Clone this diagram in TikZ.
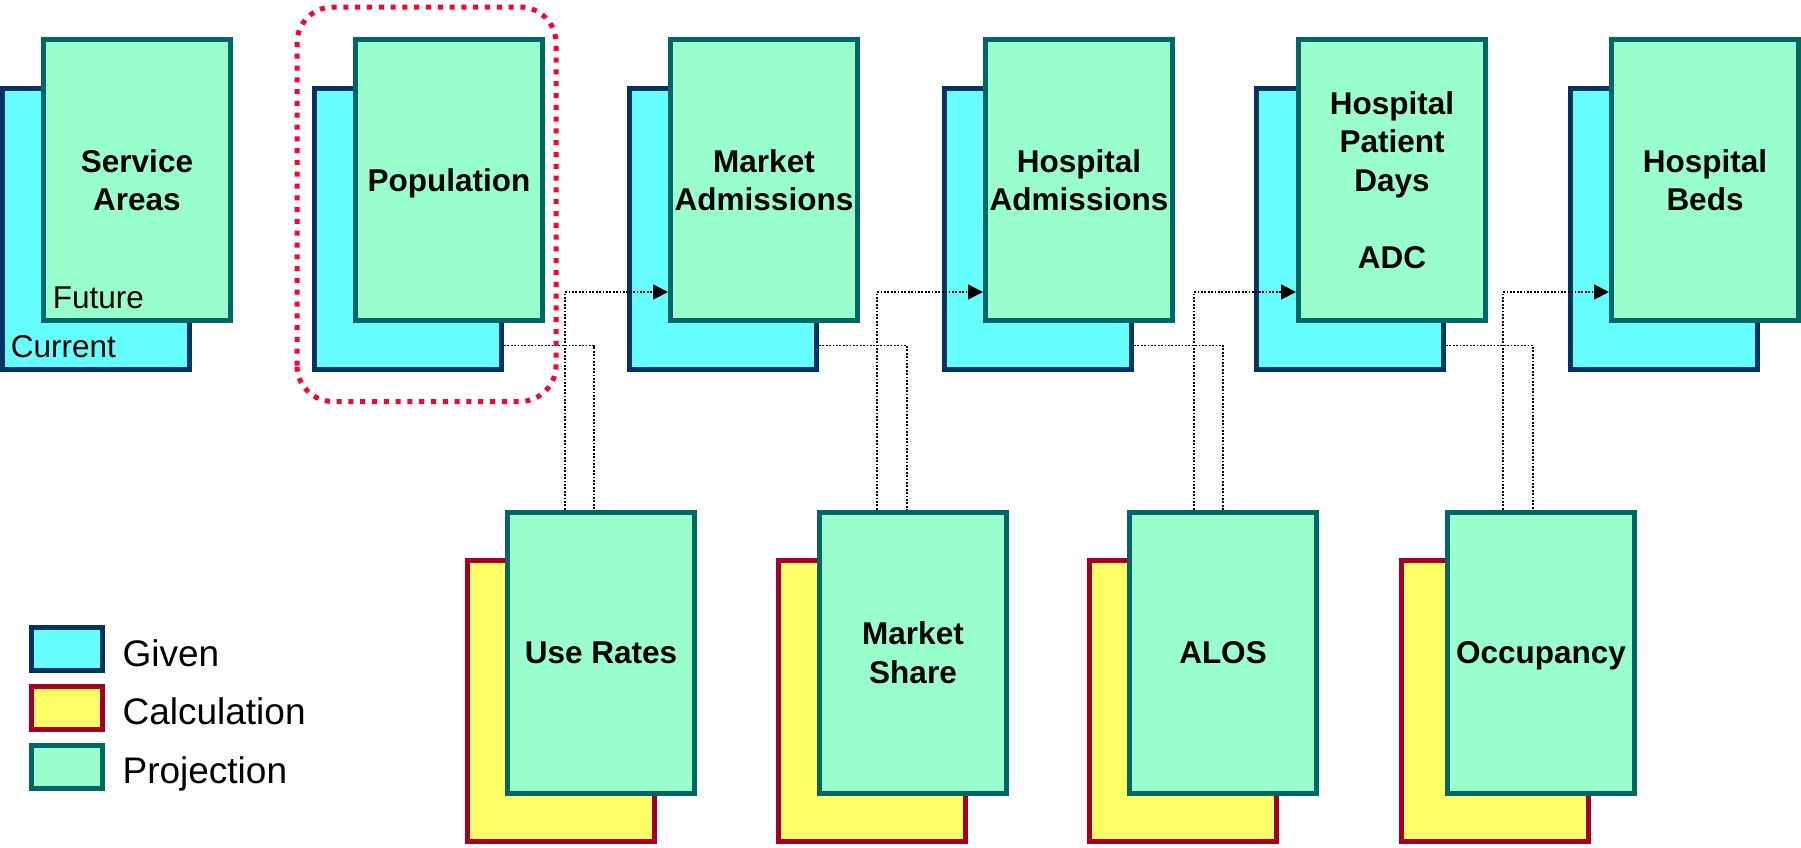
\documentclass[tikz,border=0pt]{standalone}
\usepackage{fontspec}
\setmainfont{Liberation Sans}
\usetikzlibrary{calc,arrows.meta}

\definecolor{givenfill}{HTML}{66FFFF}
\definecolor{givenline}{HTML}{003366}
\definecolor{calcfill}{HTML}{FFFF66}
\definecolor{calcline}{HTML}{A50021}
\definecolor{projfill}{HTML}{99FFCC}
\definecolor{projline}{HTML}{006666}
\definecolor{focusred}{HTML}{FF0033}

\begin{document}
\begin{tikzpicture}[x=0.5pt, y=-0.5pt, >={Triangle[length=7.5pt,width=7.5pt]},
	sheet/.style={draw, line width=2.5pt, minimum width=93.5pt, minimum height=140.5pt,
		inner sep=0pt, align=center, font=\fontsize{15.75}{19.25}\selectfont\bfseries},
	given/.style={sheet, fill=givenfill, draw=givenline},
	calcul/.style={sheet, fill=calcfill, draw=calcline},
	proj/.style={sheet, fill=projfill, draw=projline},
	link/.style={line width=0.9pt, dash pattern=on 0.9pt off 0.8pt},
	focus/.style={draw=focusred, line width=2.5pt, dash pattern=on 2.5pt off 3.4pt, rounded corners=18pt},
	lbl/.style={inner sep=0pt, anchor=base west, font=\fontsize{15.75}{19}\selectfont},
	keybox/.style={draw, line width=2.5pt, minimum width=35.5pt, minimum height=21.5pt, inner sep=0pt},
	keytext/.style={inner sep=0pt, anchor=base west, font=\fontsize{18.5}{22}\selectfont}]

	\useasboundingbox (0,0) rectangle (1801,847);

	% current sheets, top row
	\node[given] (sacur) at (96,228.5) {};
	\node[given] (popcur) at (408,228.5) {};
	\node[given] (mktcur) at (723,228.5) {};
	\node[given] (hadmcur) at (1038,228.5) {};
	\node[given] (hpdcur) at (1350,228.5) {};
	\node[given] (bedscur) at (1664,228.5) {};

	% future sheets, top row
	\node[proj] (sa) at (137,180) {Service\\Areas};
	\node[proj, text depth=0pt] (pop) at (449,180) {Population};
	\node[proj] (mkt) at (764,180) {Market\\Admissions};
	\node[proj] (hadm) at (1079,180) {Hospital\\Admissions};
	\node[proj] (hpd) at (1392,180) {Hospital\\Patient\\Days\\[19.25pt]ADC};
	\node[proj] (beds) at (1705,180) {Hospital\\Beds};

	\node[lbl] (fut) at ([xshift=5.75pt,yshift=7.5pt]sa.south west) {Future};
	\node[lbl] (cur) at ([xshift=5.25pt,yshift=7pt]sacur.south west) {Current};

	% calculation sheets, bottom row
	\node[calcul] (urcalc) at (560.5,700.5) {};
	\node[calcul] (mscalc) at (872,700.5) {};
	\node[calcul] (aloscalc) at (1183,700.5) {};
	\node[calcul] (occcalc) at (1494.5,700.5) {};

	\node[proj] (ur) at (601,652.5) {Use Rates};
	\node[proj] (ms) at (913,652.5) {Market\\Share};
	\node[proj] (alos) at (1223,652.5) {ALOS};
	\node[proj, text depth=0pt] (occ) at (1541,652.5) {Occupancy};

	% population -> use rates -> market admissions
	\draw[link] ([yshift=13pt]popcur.south east) -| ([xshift=44.5pt]ur.north west);
	\draw[link,->] ([xshift=30pt]ur.north west) |- ([yshift=15.5pt]mkt.south west);

	% market admissions -> market share -> hospital admissions
	\draw[link] ([yshift=13pt]mktcur.south east) -| ([xshift=45pt]ms.north west);
	\draw[link,->] ([xshift=30pt]ms.north west) |- ([yshift=15.5pt]hadm.south west);

	% hospital admissions -> alos -> patient days
	\draw[link] ([yshift=13pt]hadmcur.south east) -| ([xshift=48pt]alos.north west);
	\draw[link,->] ([xshift=33.5pt]alos.north west) |- ([yshift=15.5pt]hpd.south west);

	% patient days -> occupancy -> beds
	\draw[link] ([yshift=13pt]hpdcur.south east) -| ([xshift=44pt]occ.north west);
	\draw[link,->] ([xshift=29pt]occ.north west) |- ([yshift=15.5pt]beds.south west);

	% highlight round population
	\draw[focus] ($(popcur.south west)+(-15,30)$) rectangle ($(pop.north east)+(11,-30)$);

	% legend
	\node[keybox, fill=givenfill, draw=givenline] (kgiven) at (67,649) {};
	\node[keybox, fill=calcfill, draw=calcline] (kcalc) at (67,707.5) {};
	\node[keybox, fill=projfill, draw=projline] (kproj) at (67,766.5) {};

	\node[keytext] (tgiven) at ([xshift=8.6pt,yshift=-8.5pt]kgiven.east) {Given};
	\node[keytext] (tcalc) at ([xshift=8.6pt,yshift=-8.5pt]kcalc.east) {Calculation};
	\node[keytext] (tproj) at ([xshift=8.6pt,yshift=-8.5pt]kproj.east) {Projection};

\end{tikzpicture}
\end{document}
